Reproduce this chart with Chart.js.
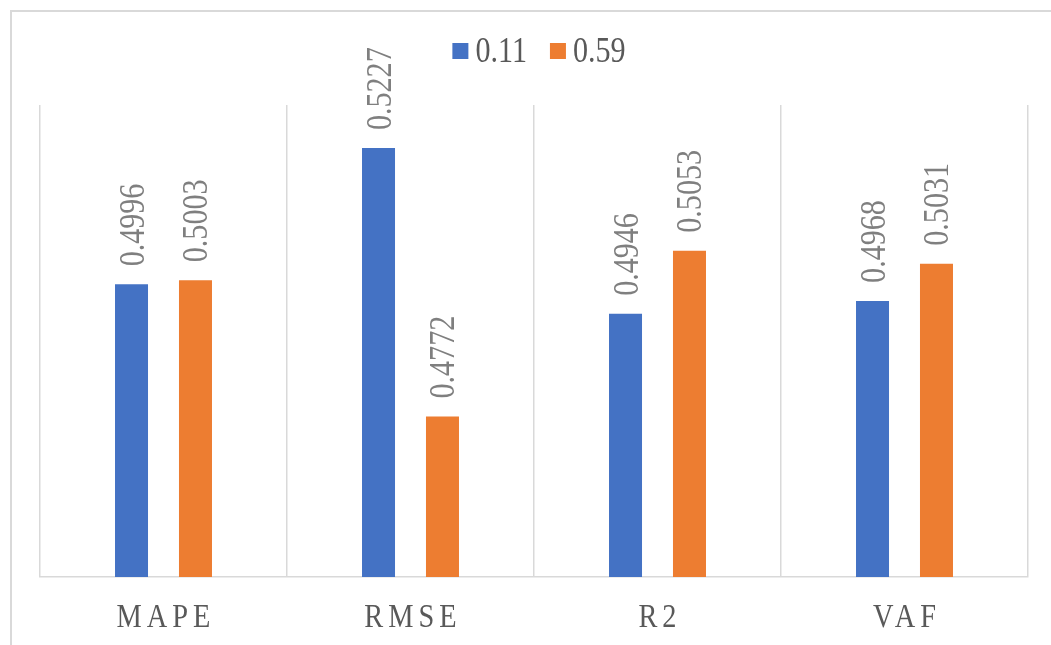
<!DOCTYPE html>
<html>
<head>
<meta charset="utf-8">
<script src="https://cdn.jsdelivr.net/npm/chart.js@4/dist/chart.umd.min.js"></script>
<style>
  html, body { margin: 0; padding: 0; background: #fff; overflow: hidden; }
  body { width: 1051px; height: 645px; position: relative; }
  #wrap {
    position: absolute; left: 10px; top: 10px;
    width: 1058px; height: 640px;
    border-left: 2px solid #d9d9d9; border-top: 2px solid #d9d9d9;
    background: #fff;
  }
</style>
</head>
<body>
<div id="wrap"><canvas id="grafico"></canvas></div>
<script>
// categorias e valores das duas séries
const categorias = ['MAPE', 'RMSE', 'R2', 'VAF'];
const nomesSeries = ['0.11', '0.59'];
const serie011 = [0.4996, 0.5227, 0.4946, 0.4968];
const serie059 = [0.5003, 0.4772, 0.5053, 0.5031];
const coresSeries = ['#4472C4', '#ED7D31'];
const eixoMin = 0.45;
const eixoMax = 0.53;

const fonteSerif = '"Liberation Serif", "Times New Roman", serif';
// a fonte do gráfico é mais estreita que a Times; comprime o texto na horizontal
const aperto = 0.86;

// valores escritos na vertical acima de cada barra
const rotulosBarras = {
    id: 'rotulosBarras',
    afterDatasetsDraw(chart) {
        const ctx = chart.ctx;
        ctx.save();
        ctx.font = '35px ' + fonteSerif;
        ctx.fillStyle = '#7f7f7f';
        ctx.textAlign = 'left';
        ctx.textBaseline = 'alphabetic';
        chart.data.datasets.forEach((ds, i) => {
            chart.getDatasetMeta(i).data.forEach((bar, j) => {
                ctx.save();
                ctx.translate(bar.x + 12, bar.y - 18);
                ctx.rotate(-Math.PI / 2);
                ctx.scale(aperto, 1);
                ctx.fillText(ds.data[j].toFixed(4), 0, 0);
                ctx.restore();
            });
        });
        ctx.restore();
    }
};

// nomes das categorias abaixo do eixo X, com letras espaçadas
const rotulosEixoX = {
    id: 'rotulosEixoX',
    afterDraw(chart) {
        const ctx = chart.ctx;
        const escala = chart.scales.x;
        ctx.save();
        ctx.font = '33px ' + fonteSerif;
        ctx.letterSpacing = (5 / aperto) + 'px';
        ctx.fillStyle = '#595959';
        ctx.textAlign = 'left';
        ctx.textBaseline = 'alphabetic';
        chart.data.labels.forEach((rotulo, i) => {
            const w = ctx.measureText(rotulo).width - 5 / aperto;
            const cx = escala.getPixelForValue(i);
            ctx.save();
            ctx.translate(cx - w * aperto / 2, escala.bottom + 50);
            ctx.scale(aperto, 1);
            ctx.fillText(rotulo, 0, 0);
            ctx.restore();
        });
        ctx.restore();
    }
};

// legenda no topo, centralizada
const legendaTopo = {
    id: 'legendaTopo',
    afterDraw(chart) {
        const ctx = chart.ctx;
        ctx.save();
        ctx.font = '35px ' + fonteSerif;
        ctx.textBaseline = 'alphabetic';
        ctx.textAlign = 'left';
        const caixa = 16, gap = 7, entreItens = 23;
        const itens = chart.data.datasets.map(ds => ({
            texto: ds.label,
            cor: ds.backgroundColor,
            w: ctx.measureText(ds.label).width * aperto
        }));
        const total = itens.reduce((s, it) => s + caixa + gap + it.w, 0) + entreItens * (itens.length - 1);
        let x = chart.width / 2 - total / 2 - 2;
        itens.forEach(it => {
            ctx.fillStyle = it.cor;
            ctx.fillRect(x, 31, caixa, caixa);
            ctx.save();
            ctx.translate(x + caixa + gap, 50);
            ctx.scale(aperto, 1);
            ctx.fillStyle = '#595959';
            ctx.fillText(it.texto, 0, 0);
            ctx.restore();
            x += caixa + gap + it.w + entreItens;
        });
        ctx.restore();
    }
};

const ctx = document.getElementById('grafico').getContext('2d');
new Chart(ctx, {
    type: 'bar',
    data: {
        labels: categorias,
        datasets: [
            { label: nomesSeries[0], data: serie011, backgroundColor: coresSeries[0], borderWidth: 0 },
            { label: nomesSeries[1], data: serie059, backgroundColor: coresSeries[1], borderWidth: 0 }
        ]
    },
    options: {
        responsive: true,
        maintainAspectRatio: false,
        animation: false,
        datasets: {
            bar: { categoryPercentage: 0.518, barPercentage: 0.516 }
        },
        layout: {
            padding: { left: 28, right: 42, top: 93, bottom: 75 }
        },
        scales: {
            x: {
                grid: { color: '#d9d9d9', lineWidth: 1.5, drawTicks: false, offset: true },
                border: { color: '#d9d9d9', width: 1.5 },
                ticks: { display: false }
            },
            y: {
                display: false,
                min: eixoMin,
                max: eixoMax
            }
        },
        plugins: {
            legend: { display: false },
            tooltip: { enabled: false }
        }
    },
    plugins: [rotulosBarras, rotulosEixoX, legendaTopo]
});
</script>
</body>
</html>
